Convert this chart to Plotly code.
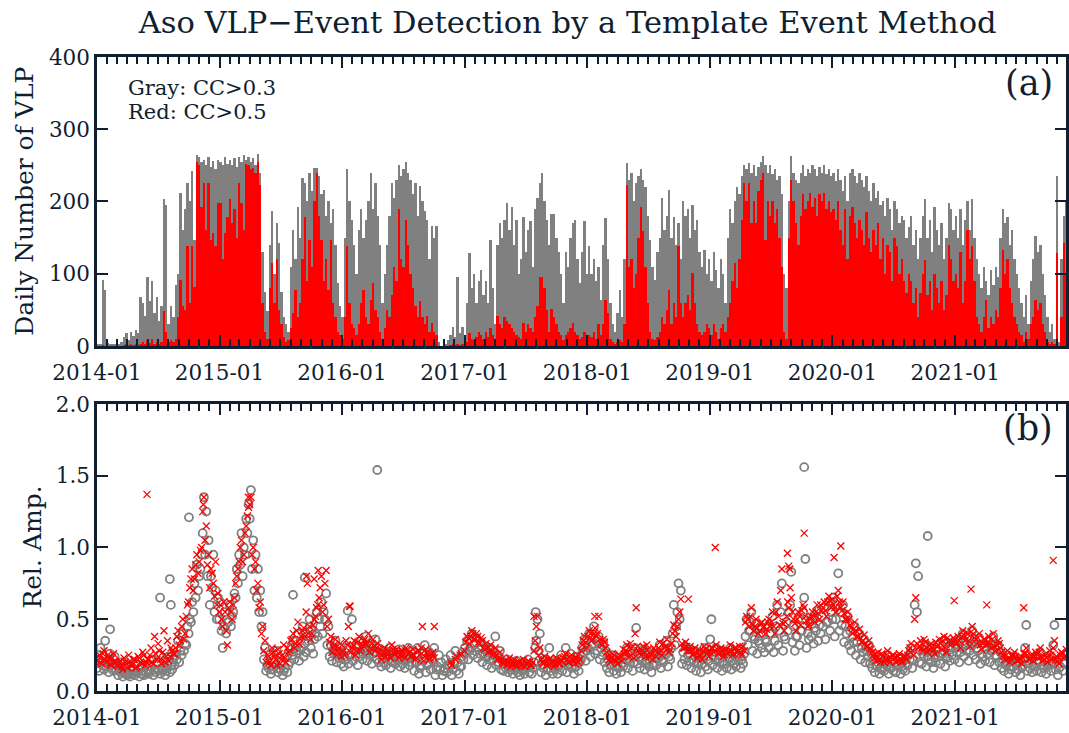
import pandas as pd
import plotly.graph_objects as go

INK = "#0f1e30"
SERIF = "DejaVu Serif"
START = "2014-01-01"
END = "2021-11-27"

# Weekly VLP counts (week bins starting 2014-01-01)
gray_count = [
    # 2014
    3, 2, 92, 78, 4, 2, 3, 2, 4, 3,
    5, 12, 18, 8, 20, 14, 22, 18, 68, 60,
    42, 95, 62, 90, 45, 68, 35, 55, 204, 195,
    30, 55, 40, 85, 100, 212, 160, 189, 226, 200,
    242, 147, 265, 262, 255, 258, 250, 262, 248, 256,
    245, 258,
    # 2015
    255, 250, 262, 252, 258, 250, 260, 248, 262, 255,
    265, 258, 262, 255, 260, 250, 266, 240, 130, 75,
    48, 140, 187, 100, 170, 142, 75, 40, 31, 20,
    110, 161, 120, 193, 150, 232, 226, 200, 240, 215,
    247, 247, 235, 210, 216, 180, 200, 170, 190, 140,
    87, 55, 40,
    # 2016
    150, 245, 200, 175, 140, 100, 160, 190, 150, 175,
    200, 240, 190, 225, 180, 140, 60, 100, 140, 180,
    225, 205, 230, 250, 235, 245, 255, 240, 230, 210,
    226, 180, 221, 200, 187, 175, 120, 166, 150, 166,
    5, 0, 0, 2, 8, 15, 26, 12, 96, 18,
    26, 14,
    # 2017
    60, 129, 80, 100, 60, 90, 105, 70, 90, 60,
    147, 80, 30, 140, 170, 150, 175, 198, 160, 193,
    140, 175, 100, 120, 179, 130, 160, 173, 110, 190,
    205, 226, 240, 200, 175, 140, 182, 182, 150, 130,
    100, 60, 130, 110, 150, 170, 175, 120, 87, 130,
    173, 100,
    # 2018
    138, 100, 120, 90, 110, 64, 140, 177, 120, 60,
    30, 20, 45, 78, 40, 120, 253, 230, 240, 200,
    225, 235, 245, 230, 220, 180, 147, 110, 92, 130,
    150, 205, 160, 180, 216, 150, 179, 140, 170, 120,
    200, 180, 190, 150, 195, 160, 175, 130, 110, 133,
    100, 120,
    # 2019
    90, 130, 105, 80, 120, 100, 60, 150, 190, 170,
    200, 220, 210, 235, 250, 245, 253, 240, 250, 235,
    248, 255, 263, 250, 240, 250, 238, 245, 230, 235,
    210, 100, 80, 200, 263, 240, 230, 226, 240, 250,
    235, 245, 240, 250, 245, 235, 248, 240, 250, 238,
    245, 235,
    # 2020
    240, 228, 245, 230, 215, 235, 200, 240, 245, 235,
    225, 240, 230, 220, 235, 215, 200, 225, 205, 215,
    195, 200, 180, 205, 190, 160, 200, 190, 170, 180,
    175, 150, 165, 180, 140, 160, 120, 150, 180, 203,
    150, 175, 130, 193, 160, 140, 170, 120, 150, 198,
    190, 160,
    # 2021
    180, 150, 190, 140, 175, 200, 160, 203, 150, 120,
    100, 80, 110, 90, 70, 105, 85, 110, 95, 150,
    189, 170, 179, 140, 160, 120, 100, 80, 60, 40,
    70, 30, 90, 120, 152, 130, 140, 100, 70, 40,
    20, 30, 10, 235, 5, 120, 180, 200,
]

red_count = [
    # 2014
    0, 0, 1, 0, 0, 0, 0, 0, 0, 0,
    0, 1, 2, 1, 2, 1, 2, 1, 3, 5,
    2, 8, 4, 10, 3, 6, 2, 5, 48, 20,
    5, 8, 6, 10, 40, 92, 55, 50, 138, 60,
    138, 82, 255, 250, 193, 226, 160, 226, 147, 156,
    138, 198,
    # 2015
    198, 120, 156, 179, 203, 170, 189, 150, 226, 198,
    160, 252, 250, 245, 247, 240, 254, 223, 60, 20,
    10, 80, 115, 60, 120, 50, 30, 12, 5, 8,
    25, 45, 78, 40, 60, 120, 179, 90, 147, 110,
    200, 240, 180, 147, 90, 120, 78, 147, 60, 40,
    20, 15, 10,
    # 2016
    40, 138, 60, 30, 25, 15, 30, 60, 78, 40,
    30, 64, 87, 50, 40, 20, 10, 25, 50, 40,
    70, 110, 90, 189, 120, 110, 175, 140, 100, 80,
    55, 40, 62, 40, 30, 41, 20, 32, 20, 15,
    0, 0, 0, 0, 0, 1, 2, 1, 3, 1,
    2, 1,
    # 2017
    5, 18, 10, 8, 12, 20, 15, 10, 20, 12,
    25, 15, 5, 42, 30, 25, 40, 34, 30, 25,
    20, 15, 12, 10, 32, 20, 30, 25, 20, 40,
    55, 96, 96, 80, 50, 20, 51, 40, 30, 20,
    15, 8, 15, 20, 25, 32, 20, 15, 10, 12,
    20, 15,
    # 2018
    15, 12, 20, 10, 30, 15, 30, 64, 45, 10,
    5, 3, 5, 8, 5, 30, 223, 110, 120, 80,
    100, 150, 193, 159, 110, 60, 20, 10, 8, 12,
    20, 40, 30, 50, 78, 30, 60, 40, 138, 60,
    40, 60, 70, 50, 101, 60, 30, 20, 15, 20,
    30, 25,
    # 2019
    15, 30, 20, 10, 25, 30, 20, 40, 60, 90,
    115, 80, 120, 175, 226, 200, 226, 170, 200, 170,
    215, 230, 240, 147, 200, 180, 200, 170, 190, 150,
    110, 20, 10, 150, 230, 200, 170, 140, 180, 210,
    190, 200, 212, 193, 205, 180, 210, 200, 212, 190,
    200, 185,
    # 2020
    190, 175, 200, 160, 140, 190, 120, 180, 193, 170,
    150, 175, 160, 140, 185, 150, 130, 160, 140, 170,
    120, 150, 100, 140, 130, 90, 150, 138, 100, 120,
    90, 73, 100, 90, 60, 80, 40, 73, 100, 119,
    70, 90, 50, 100, 80, 60, 90, 50, 70, 140,
    120, 90,
    # 2021
    100, 80, 130, 60, 90, 161, 120, 138, 90, 40,
    30, 20, 40, 64, 25, 40, 30, 50, 40, 80,
    133, 100, 120, 80, 60, 40, 30, 20, 15, 5,
    20, 10, 30, 40, 64, 50, 60, 30, 20, 5,
    2, 5, 2, 129, 0, 40, 143, 100,
]

# Weekly relative amplitudes, CC>0.3 (mid-week readings)
gray_amp = [
    # 2014
    0.22, 0.30, 0.18, 0.35, 0.20, 0.26, 0.16, 0.24, 0.19,
    0.15, 0.20, 0.13, 0.18, 0.12, 0.17, 0.14, 0.19, 0.13, 0.16, 0.12, 0.18, 0.15,
    0.17, 0.22, 0.15, 0.20, 0.25, 0.16, 0.21, 0.14, 0.24, 0.18, 0.22,
    0.25, 0.35, 0.28, 0.40, 0.33, 0.45,
    0.50, 0.62, 0.75, 0.88, 0.80,
    0.95, 1.35, 1.25, 1.05, 0.80, 0.95, 0.70, 0.65,
    # 2015
    0.62, 0.30, 0.55, 0.48, 0.60, 0.52, 0.68,
    0.85, 0.95, 1.10, 1.00, 1.20, 1.30, 1.40, 1.05, 0.95, 0.85, 0.70, 0.55, 0.30,
    0.18, 0.25, 0.15, 0.22, 0.28, 0.16, 0.20, 0.14, 0.24, 0.18, 0.30,
    0.35, 0.30, 0.40, 0.28, 0.45, 0.33, 0.38, 0.50, 0.42, 0.36, 0.55,
    0.50, 0.62, 0.55, 0.68, 0.45,
    0.32, 0.28, 0.35, 0.26, 0.30, 0.25,
    # 2016
    0.22, 0.30, 0.25, 0.50, 0.28, 0.32, 0.24, 0.35,
    0.30, 0.38, 0.28, 0.33, 0.26, 0.36, 0.30, 0.27,
    0.22, 0.28, 0.24, 0.30, 0.21, 0.27, 0.25, 0.29, 0.23, 0.26, 0.22, 0.30, 0.24, 0.28,
    0.20, 0.30, 0.16, 0.26, 0.32, 0.18, 0.27, 0.22, 0.30, 0.15, 0.25,
    0.20, 0.14, 0.22,
    0.18, 0.25, 0.15, 0.28, 0.20, 0.17, 0.24, 0.30,
    # 2017
    0.35, 0.28, 0.40, 0.32, 0.37, 0.30, 0.34, 0.26, 0.31,
    0.24, 0.30, 0.22, 0.38, 0.25, 0.28, 0.21,
    0.19, 0.22, 0.17, 0.20, 0.16, 0.21, 0.18, 0.15, 0.20, 0.17, 0.22, 0.18, 0.16,
    0.30, 0.50, 0.40,
    0.18, 0.22, 0.15, 0.30, 0.19, 0.16, 0.21, 0.17, 0.25,
    0.20, 0.30, 0.18, 0.26, 0.22, 0.17, 0.24, 0.20,
    0.30, 0.36, 0.28,
    # 2018
    0.40, 0.32, 0.45, 0.35, 0.38, 0.30, 0.34, 0.28,
    0.22, 0.18, 0.25, 0.20, 0.17, 0.23, 0.19,
    0.24, 0.30, 0.22, 0.28, 0.20, 0.44, 0.26, 0.23, 0.29, 0.21, 0.27, 0.24, 0.19, 0.26,
    0.25, 0.32, 0.22, 0.28, 0.35, 0.24, 0.30, 0.60, 0.45, 0.75, 0.70, 0.27, 0.31, 0.25, 0.29,
    0.22, 0.28, 0.20, 0.26, 0.19, 0.30, 0.24, 0.21,
    # 2019
    0.50, 0.25, 0.30, 0.22, 0.28, 0.20, 0.26, 0.23, 0.30, 0.21, 0.27, 0.24, 0.29, 0.22, 0.26,
    0.50, 0.42, 0.55, 0.38, 0.47, 0.35, 0.44, 0.40, 0.36, 0.45,
    0.40, 0.52, 0.35, 0.60, 0.42, 0.75, 0.38, 0.48, 0.55, 0.83,
    0.45, 0.38, 0.50, 0.42, 0.55, 0.92, 0.40, 0.48,
    0.50, 0.44, 0.56, 0.46, 0.52, 0.58, 0.48, 0.62, 0.55,
    # 2020
    0.65, 0.50, 0.82, 0.55, 0.60, 0.45, 0.52,
    0.42, 0.38, 0.45, 0.34, 0.40, 0.30, 0.36, 0.28, 0.32, 0.26,
    0.22, 0.18, 0.24, 0.16, 0.21, 0.19, 0.25, 0.17, 0.22, 0.20, 0.18, 0.23, 0.17, 0.21, 0.19,
    0.25, 0.30, 0.22, 0.89, 0.80, 0.28, 0.26, 0.32, 0.24, 0.30, 0.27, 0.23,
    0.28, 0.33, 0.26, 0.35, 0.24, 0.31, 0.29, 0.34,
    # 2021
    0.30, 0.36, 0.27, 0.40, 0.32, 0.38, 0.28, 0.42, 0.34, 0.30, 0.37, 0.26, 0.33, 0.29,
    0.35, 0.28, 0.38, 0.25, 0.32, 0.27,
    0.22, 0.19, 0.25, 0.17, 0.21, 0.24, 0.18, 0.20, 0.16, 0.23, 0.46, 0.19, 0.22, 0.18,
    0.24, 0.20, 0.27, 0.18, 0.22, 0.17, 0.25, 0.19, 0.46, 0.21, 0.16, 0.24, 0.20, 0.26,
]

# Weekly relative amplitudes, CC>0.3 (start-of-week readings)
gray_amp_b = [
    # 2014
    0.16, 0.14, 0.20, 0.15, 0.17, 0.13, 0.18, 0.14, 0.15,
    0.11, 0.13, 0.10, 0.12, 0.11, 0.10, 0.12, 0.11, 0.13, 0.10, 0.12, 0.11, 0.13,
    0.12, 0.14, 0.11, 0.13, 0.15, 0.12, 0.14, 0.11, 0.16, 0.13, 0.15,
    0.18, 0.22, 0.20, 0.25, 0.28, 0.32,
    0.40, 0.48, 0.55, 0.65, 0.70,
    0.85, 1.10, 0.95, 0.80, 0.60, 0.72, 0.55, 0.50,
    # 2015
    0.50, 0.42, 0.45, 0.40, 0.48, 0.45, 0.55,
    0.65, 0.75, 0.88, 0.80, 0.95, 1.10, 1.20, 0.85, 0.70, 0.65, 0.55, 0.45, 0.22,
    0.14, 0.16, 0.12, 0.15, 0.18, 0.13, 0.15, 0.11, 0.16, 0.13, 0.20,
    0.25, 0.22, 0.28, 0.21, 0.30, 0.24, 0.27, 0.35, 0.30, 0.26, 0.40,
    0.38, 0.45, 0.40, 0.50, 0.32,
    0.24, 0.21, 0.26, 0.20, 0.23, 0.19,
    # 2016
    0.17, 0.22, 0.19, 0.25, 0.21, 0.24, 0.18, 0.26,
    0.22, 0.28, 0.21, 0.25, 0.19, 0.27, 0.22, 0.20,
    0.17, 0.20, 0.18, 0.22, 0.16, 0.20, 0.19, 0.21, 0.17, 0.19, 0.16, 0.22, 0.18, 0.20,
    0.14, 0.20, 0.12, 0.18, 0.22, 0.13, 0.19, 0.15, 0.21, 0.11, 0.17,
    0.15, 0.11, 0.16,
    0.13, 0.18, 0.11, 0.20, 0.14, 0.12, 0.17, 0.22,
    # 2017
    0.27, 0.22, 0.30, 0.25, 0.28, 0.23, 0.26, 0.20, 0.24,
    0.18, 0.22, 0.16, 0.25, 0.18, 0.20, 0.15,
    0.14, 0.16, 0.13, 0.15, 0.12, 0.15, 0.13, 0.11, 0.14, 0.12, 0.16, 0.13, 0.12,
    0.20, 0.35, 0.28,
    0.13, 0.16, 0.11, 0.20, 0.14, 0.12, 0.15, 0.12, 0.18,
    0.14, 0.21, 0.13, 0.19, 0.16, 0.12, 0.17, 0.14,
    0.22, 0.27, 0.21,
    # 2018
    0.30, 0.24, 0.33, 0.26, 0.28, 0.22, 0.25, 0.20,
    0.16, 0.13, 0.18, 0.14, 0.12, 0.16, 0.13,
    0.17, 0.22, 0.16, 0.20, 0.14, 0.30, 0.19, 0.16, 0.21, 0.15, 0.19, 0.17, 0.13, 0.18,
    0.18, 0.23, 0.16, 0.20, 0.25, 0.17, 0.22, 0.40, 0.32, 0.55, 0.50, 0.19, 0.22, 0.18, 0.21,
    0.16, 0.20, 0.14, 0.19, 0.13, 0.22, 0.17, 0.15,
    # 2019
    0.36, 0.18, 0.22, 0.16, 0.20, 0.14, 0.19, 0.16, 0.22, 0.15, 0.19, 0.17, 0.21, 0.16, 0.19,
    0.38, 0.32, 0.42, 0.28, 0.36, 0.26, 0.33, 0.30, 0.27, 0.34,
    0.30, 0.40, 0.27, 0.45, 0.32, 0.55, 0.28, 0.36, 0.42, 0.60,
    0.34, 0.28, 0.38, 0.32, 0.42, 0.65, 0.30, 0.36,
    0.38, 0.33, 0.42, 0.35, 0.40, 0.45, 0.36, 0.48, 0.42,
    # 2020
    0.50, 0.38, 0.60, 0.42, 0.46, 0.34, 0.40,
    0.32, 0.28, 0.34, 0.25, 0.30, 0.22, 0.27, 0.20, 0.24, 0.19,
    0.16, 0.13, 0.17, 0.12, 0.15, 0.14, 0.18, 0.12, 0.16, 0.14, 0.13, 0.17, 0.12, 0.15, 0.14,
    0.18, 0.22, 0.16, 0.60, 0.55, 0.20, 0.19, 0.24, 0.17, 0.22, 0.20, 0.16,
    0.20, 0.24, 0.19, 0.26, 0.17, 0.23, 0.21, 0.25,
    # 2021
    0.22, 0.27, 0.20, 0.30, 0.24, 0.28, 0.21, 0.32, 0.25, 0.22, 0.28, 0.19, 0.24, 0.21,
    0.26, 0.20, 0.28, 0.18, 0.24, 0.20,
    0.16, 0.14, 0.18, 0.12, 0.15, 0.17, 0.13, 0.15, 0.11, 0.17, 0.30, 0.14, 0.16, 0.13,
    0.17, 0.14, 0.20, 0.13, 0.16, 0.12, 0.18, 0.14, 0.32, 0.15, 0.11, 0.17, 0.14, 0.19,
]

# Weekly relative amplitudes, CC>0.5 (mid-week readings)
red_amp = [
    # 2014
    0.24, 0.20, 0.26, 0.22, 0.25, 0.19, 0.23, 0.21, 0.18,
    0.20, 0.17, 0.23, 0.19, 0.25, 0.18, 0.22, 0.16, 0.24, 0.20, 0.27, 0.18, 0.22,
    0.25, 0.20, 0.38, 0.22, 0.28, 0.19, 0.42, 0.24, 0.21, 0.30, 0.26,
    0.30, 0.42, 0.35, 0.50, 0.40, 0.60,
    0.72, 0.85, 0.78, 0.95, 0.90,
    1.00, 1.35, 1.15, 0.95, 0.85, 0.75, 0.90, 0.68,
    # 2015
    0.60, 0.45, 0.55, 0.32, 0.62, 0.50, 0.65,
    0.80, 0.90, 1.05, 0.95, 1.15, 1.28, 1.35, 1.00, 0.90, 0.75, 0.62, 0.45, 0.35,
    0.25, 0.20, 0.30, 0.24, 0.18, 0.26, 0.22, 0.32, 0.20, 0.27, 0.35,
    0.40, 0.33, 0.48, 0.36, 0.42, 0.38, 0.75, 0.45, 0.40, 0.50, 0.58,
    0.65, 0.80, 0.60, 0.84, 0.50,
    0.38, 0.30, 0.36, 0.28, 0.33, 0.27,
    # 2016
    0.25, 0.32, 0.59, 0.30, 0.35, 0.28, 0.38, 0.30,
    0.35, 0.32, 0.40, 0.30, 0.36, 0.28, 0.33, 0.29,
    0.25, 0.30, 0.27, 0.24, 0.32, 0.26, 0.29, 0.23, 0.28, 0.25, 0.30, 0.26, 0.24, 0.29,
    0.22, 0.28, 0.25, 0.45, 0.24, 0.27, 0.22, 0.26, 0.23, None, None,
    None, None, None,
    None, 0.20, None, 0.22, None, 0.25, None, 0.28,
    # 2017
    0.38, 0.33, 0.42, 0.36, 0.40, 0.34, 0.37, 0.30, 0.33,
    0.27, 0.32, 0.25, 0.30, 0.22, 0.27, 0.20,
    0.21, 0.18, 0.23, 0.19, 0.22, 0.17, 0.20, 0.18, 0.22, 0.19, 0.21, 0.18, 0.20,
    0.35, 0.52, 0.30,
    0.20, 0.24, 0.18, 0.22, 0.20, 0.17, 0.23, 0.19, 0.21,
    0.23, 0.26, 0.20, 0.24, 0.22, 0.19, 0.25, 0.22,
    0.32, 0.38, 0.30,
    # 2018
    0.42, 0.35, 0.40, 0.38, 0.52, 0.33, 0.36, 0.30,
    0.24, 0.20, 0.26, 0.22, 0.19, 0.25, 0.21,
    0.26, 0.32, 0.24, 0.30, 0.23, 0.58, 0.28, 0.25, 0.31, 0.24, 0.29, 0.26, 0.22, 0.28,
    0.27, 0.34, 0.25, 0.30, 0.36, 0.27, 0.33, 0.46, 0.38, 0.50, 0.64, 0.30, 0.34, 0.28, 0.31,
    0.25, 0.30, 0.23, 0.28, 0.22, 0.31, 0.26, 0.24,
    # 2019
    0.30, 0.27, 0.32, 0.26, 0.30, 0.24, 0.28, 0.26, 0.32, 0.25, 0.30, 0.27, 0.31, 0.25, 0.28,
    0.52, 0.45, 0.58, 0.42, 0.50, 0.40, 0.47, 0.44, 0.40, 0.48,
    0.45, 0.55, 0.40, 0.62, 0.46, 0.85, 0.42, 0.52, 0.58, 0.65,
    0.50, 0.42, 0.55, 0.46, 0.60, 0.52, 0.45, 0.50,
    0.55, 0.48, 0.60, 0.50, 0.56, 0.62, 0.52, 0.66, 0.58,
    # 2020
    0.60, 0.55, 0.70, 0.58, 0.62, 0.50, 0.55,
    0.46, 0.40, 0.48, 0.38, 0.43, 0.34, 0.39, 0.31, 0.35, 0.29,
    0.25, 0.21, 0.27, 0.20, 0.24, 0.22, 0.28, 0.20, 0.25, 0.23, 0.21, 0.26, 0.20, 0.24, 0.22,
    0.28, 0.33, 0.25, 0.65, 0.30, 0.35, 0.28, 0.34, 0.27, 0.32, 0.30, 0.26,
    0.31, 0.36, 0.29, 0.38, 0.27, 0.34, 0.32, 0.37,
    # 2021
    0.33, 0.38, 0.30, 0.42, 0.35, 0.40, 0.31, 0.45, 0.37, 0.33, 0.40, 0.29, 0.36, 0.32,
    0.38, 0.30, 0.40, 0.28, 0.35, 0.30,
    0.25, 0.22, 0.28, 0.20, 0.24, 0.27, 0.21, 0.23, 0.19, 0.26, 0.30, 0.22, 0.25, 0.21,
    0.27, 0.23, 0.30, 0.21, 0.25, 0.20, 0.28, 0.22, 0.35, 0.24, 0.19, 0.27, 0.23, 0.29,
]

# Weekly relative amplitudes, CC>0.5 (start-of-week readings)
red_amp_b = [
    # 2014
    0.21, 0.25, 0.19, 0.28, 0.20, 0.23, 0.18, 0.26, 0.20,
    0.17, 0.21, 0.15, 0.20, 0.16, 0.21, 0.18, 0.22, 0.17, 0.23, 0.19, 0.25, 0.20,
    0.22, 0.30, 0.19, 0.26, 0.33, 0.22, 0.27, 0.20, 0.35, 0.24, 0.28,
    0.26, 0.38, 0.32, 0.45, 0.36, 0.52,
    0.62, 0.78, 0.70, 0.88, 0.82,
    0.98, 1.25, 1.05, 0.88, 0.72, 0.82, 0.66, 0.60,
    # 2015
    0.55, 0.50, 0.62, 0.42, 0.58, 0.55, 0.60,
    0.75, 0.85, 1.00, 0.90, 1.10, 1.22, 1.30, 0.95, 0.85, 0.70, 0.58, 0.40, 0.28,
    0.20, 0.24, 0.18, 0.27, 0.22, 0.29, 0.19, 0.25, 0.23, 0.30, 0.28,
    0.36, 0.30, 0.42, 0.33, 0.38, 0.44, 0.55, 0.40, 0.36, 0.46, 0.52,
    0.60, 0.72, 0.55, 0.75, 0.45,
    0.34, 0.27, 0.32, 0.25, 0.30, 0.24,
    # 2016
    0.28, 0.35, 0.45, 0.27, 0.32, 0.25, 0.34, 0.28,
    0.32, 0.36, 0.34, 0.27, 0.33, 0.31, 0.30, 0.26,
    0.22, 0.27, 0.24, 0.28, 0.23, 0.29, 0.26, 0.27, 0.25, 0.28, 0.23, 0.29, 0.27, 0.25,
    0.25, 0.23, 0.28, 0.30, 0.21, 0.29, 0.25, 0.23, 0.27, None, None,
    None, None, None,
    None, None, 0.18, None, 0.24, None, 0.26, None,
    # 2017
    0.34, 0.37, 0.38, 0.40, 0.36, 0.38, 0.33, 0.35, 0.29,
    0.30, 0.28, 0.28, 0.26, 0.25, 0.23, 0.22,
    0.19, 0.21, 0.20, 0.17, 0.20, 0.19, 0.18, 0.21, 0.19, 0.17, 0.19, 0.20, 0.18,
    0.28, 0.45, 0.25,
    0.22, 0.19, 0.21, 0.19, 0.23, 0.20, 0.19, 0.22, 0.19,
    0.21, 0.24, 0.22, 0.20, 0.25, 0.21, 0.23, 0.20,
    0.28, 0.35, 0.34,
    # 2018
    0.38, 0.40, 0.36, 0.44, 0.40, 0.36, 0.32, 0.34,
    0.27, 0.22, 0.23, 0.25, 0.21, 0.23, 0.24,
    0.29, 0.28, 0.27, 0.33, 0.26, 0.40, 0.31, 0.27, 0.28, 0.27, 0.32, 0.24, 0.25, 0.30,
    0.24, 0.30, 0.28, 0.33, 0.31, 0.30, 0.29, 0.40, 0.42, 0.45, 0.55, 0.33, 0.30, 0.31, 0.28,
    0.28, 0.26, 0.27, 0.25, 0.25, 0.28, 0.29, 0.27,
    # 2019
    0.27, 0.30, 0.28, 0.29, 0.27, 0.28, 0.25, 0.29, 0.28, 0.28, 0.26, 0.30, 0.28, 0.27, 0.31,
    0.48, 0.50, 0.52, 0.46, 0.45, 0.44, 0.42, 0.48, 0.45, 0.43,
    0.50, 0.48, 0.45, 0.55, 0.52, 0.70, 0.47, 0.48, 0.62, 0.72,
    0.55, 0.47, 0.50, 0.52, 0.56, 0.58, 0.49, 0.46,
    0.52, 0.52, 0.55, 0.54, 0.60, 0.58, 0.56, 0.62, 0.63,
    # 2020
    0.64, 0.58, 0.66, 0.62, 0.56, 0.54, 0.50,
    0.50, 0.44, 0.43, 0.42, 0.38, 0.37, 0.35, 0.33, 0.31, 0.30,
    0.27, 0.23, 0.24, 0.22, 0.26, 0.20, 0.25, 0.22, 0.23, 0.25, 0.20, 0.24, 0.22, 0.21, 0.24,
    0.25, 0.30, 0.28, 0.50, 0.33, 0.31, 0.30, 0.36, 0.30, 0.29, 0.33, 0.28,
    0.34, 0.32, 0.33, 0.35, 0.30, 0.37, 0.35, 0.34,
    # 2021
    0.36, 0.34, 0.35, 0.38, 0.39, 0.36, 0.35, 0.41, 0.40, 0.36, 0.37, 0.32, 0.33, 0.35,
    0.34, 0.33, 0.36, 0.31, 0.32, 0.33,
    0.27, 0.24, 0.25, 0.23, 0.22, 0.25, 0.24, 0.21, 0.22, 0.23, 0.26, 0.25, 0.22, 0.24,
    0.24, 0.26, 0.27, 0.24, 0.22, 0.23, 0.25, 0.25, 0.30, 0.22, 0.21, 0.25, 0.26, 0.24,
]

# Isolated amplitude readings
gray_amp_extra_dates = ["2014-02-09", "2014-07-08", "2014-08-06", "2014-08-09", "2014-10-02",
                        "2015-08-08", "2015-09-12", "2016-01-18", "2016-04-15", "2017-07-31",
                        "2019-10-09", "2020-10-11"]
gray_amp_extra = [0.43, 0.65, 0.78, 0.60, 1.21, 0.67, 0.79, 0.56, 1.54, 0.55, 1.56, 1.08]

red_amp_extra_dates = ["2014-05-30", "2014-11-14", "2015-03-28", "2015-09-17", "2015-10-10",
                       "2015-10-22", "2016-01-25", "2016-10-02", "2017-07-26", "2018-01-23",
                       "2018-10-29", "2019-01-17", "2019-08-20", "2019-08-24", "2019-08-27",
                       "2019-10-09", "2020-01-06", "2020-01-26", "2020-12-29", "2021-02-17",
                       "2021-04-05", "2021-07-24", "2021-10-20"]
red_amp_extra = [1.37, 1.30, 1.35, 0.80, 0.78, 0.84, 0.59, 0.45, 0.52, 0.52, 0.64, 1.00,
                 0.96, 0.87, 0.85, 1.10, 0.93, 1.01, 0.63, 0.71, 0.60, 0.58, 0.91]

WEEK_MS = 7 * 24 * 3600 * 1000


def week_starts(n):
    return pd.date_range(START, periods=n, freq="7D")


def week_centers(n):
    return week_starts(n) + pd.Timedelta(hours=84)


fig = go.Figure()

# (a) daily counts, binned by week
fig.add_trace(go.Bar(x=week_centers(len(gray_count)), y=gray_count, width=WEEK_MS,
                     marker=dict(color="#808080", line=dict(width=0)),
                     xaxis="x", yaxis="y", showlegend=False))
fig.add_trace(go.Bar(x=week_centers(len(red_count)), y=red_count, width=WEEK_MS,
                     marker=dict(color="#ff0000", line=dict(width=0)),
                     xaxis="x", yaxis="y", showlegend=False))

# (b) relative amplitudes
gray_marker = dict(symbol="circle-open", size=8, color="#808080", line=dict(width=1.8, color="#808080"))
red_marker = dict(symbol="x-thin", size=7, color="#ff0000", line=dict(width=1.3, color="#ff0000"))

gray_sets = [
    (week_starts(len(gray_amp_b)), gray_amp_b),
    (week_centers(len(gray_amp)), gray_amp),
    (pd.to_datetime(gray_amp_extra_dates), gray_amp_extra),
]
red_sets = [
    (week_starts(len(red_amp_b)), red_amp_b),
    (week_centers(len(red_amp)), red_amp),
    (pd.to_datetime(red_amp_extra_dates), red_amp_extra),
]
for xs, ys in gray_sets:
    fig.add_trace(go.Scatter(x=xs, y=ys, mode="markers", marker=gray_marker,
                             xaxis="x2", yaxis="y2", showlegend=False))
for xs, ys in red_sets:
    fig.add_trace(go.Scatter(x=xs, y=ys, mode="markers", marker=red_marker,
                             xaxis="x2", yaxis="y2", showlegend=False))

axis_style = dict(
    showline=True, linecolor=INK, linewidth=2.5, mirror="allticks",
    ticks="inside", tickcolor=INK, tickwidth=2, ticklen=11,
    showgrid=False, zeroline=False,
    tickfont=dict(family=SERIF, size=21.5, color=INK),
)
x_style = dict(
    axis_style, type="date", range=[START, END],
    tick0=START, dtick="M12", tickformat="%Y-%m", ticklabelstandoff=5,
    minor=dict(dtick="M1", ticks="inside", ticklen=7, tickwidth=1.5, tickcolor=INK, showgrid=False),
)

fig.update_layout(
    width=1069, height=733,
    margin=dict(l=97, r=0, t=57, b=42),
    paper_bgcolor="white", plot_bgcolor="white",
    barmode="overlay", bargap=0,
    font=dict(family=SERIF, color=INK),
    title=dict(text="Aso VLP\u2212Event Detection by a Template Event Method",
               x=0.531, xref="container", xanchor="center",
               y=0.970, yref="container", yanchor="middle",
               font=dict(family=SERIF, size=30.5, color=INK)),
    xaxis=dict(x_style, anchor="y", domain=[0, 1]),
    yaxis=dict(axis_style, anchor="x", domain=[0.5442, 1], range=[0, 400], dtick=100),
    xaxis2=dict(x_style, anchor="y2", domain=[0, 1]),
    yaxis2=dict(axis_style, anchor="x2", domain=[0, 0.4527], range=[0, 2.0], dtick=0.5,
                tickformat=".1f"),
)

annotations = [
    dict(text="Daily Number of VLP", x=-0.075, y=0.5, xref="paper", yref="y domain",
         textangle=-90, showarrow=False, font=dict(family=SERIF, size=25, color=INK),
         xanchor="center", yanchor="middle"),
    dict(text="Rel. Amp.", x=-0.067, y=0.5, xref="paper", yref="y2 domain",
         textangle=-90, showarrow=False, font=dict(family=SERIF, size=25, color=INK),
         xanchor="center", yanchor="middle"),
    dict(text="Gray: CC>0.3", x=0.0298, y=0.893, xref="x domain", yref="y domain",
         showarrow=False, font=dict(family=SERIF, size=21, color=INK),
         xanchor="left", yanchor="middle"),
    dict(text="Red: CC>0.5", x=0.0298, y=0.81, xref="x domain", yref="y domain",
         showarrow=False, font=dict(family=SERIF, size=21, color=INK),
         xanchor="left", yanchor="middle"),
    dict(text="(a)", x=0.9887, y=0.91, xref="x domain", yref="y domain",
         showarrow=False, font=dict(family=SERIF, size=35, color=INK),
         xanchor="right", yanchor="middle"),
    dict(text="(b)", x=0.9887, y=0.916, xref="x2 domain", yref="y2 domain",
         showarrow=False, font=dict(family=SERIF, size=35, color=INK),
         xanchor="right", yanchor="middle"),
]
fig.update_layout(annotations=annotations)

fig.write_html("out.html")
